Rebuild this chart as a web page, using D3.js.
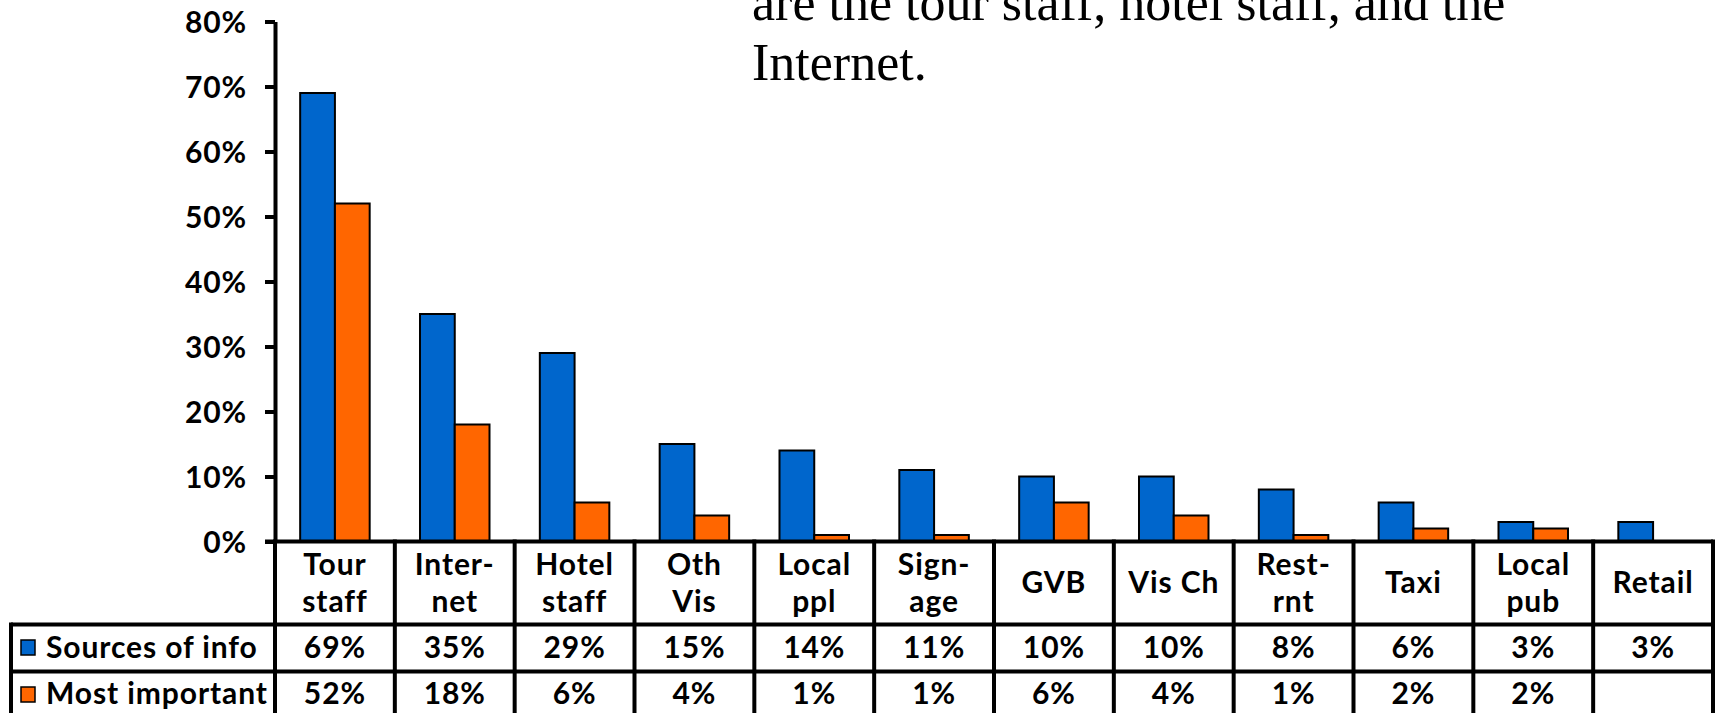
<!DOCTYPE html>
<html>
<head>
<meta charset="utf-8">
<script src="https://cdn.jsdelivr.net/npm/d3@7/dist/d3.min.js"></script>
<style>
  html, body { margin: 0; padding: 0; background: #fff; }
  svg { display: block; }
  .lbl { font-family: Lato, "DejaVu Sans", sans-serif; font-weight: 700; font-size: 30px; letter-spacing: 0.9px; fill: #000; }
  .note { font-family: "Liberation Serif", "Times New Roman", serif; font-size: 52px; fill: #000; }
</style>
</head>
<body>
<svg id="chart" width="1715" height="713"></svg>
<script>
// Information sources used by visitors (share of respondents, %)
const categories = ["Tour\nstaff", "Inter-\nnet", "Hotel\nstaff", "Oth\nVis", "Local\nppl", "Sign-\nage",
                    "GVB", "Vis Ch", "Rest-\nrnt", "Taxi", "Local\npub", "Retail"];
const seriesNames = ["Sources of info", "Most important"];
const sourcesOfInfo = [69, 35, 29, 15, 14, 11, 10, 10, 8, 6, 3, 3];
const mostImportant = [52, 18, 6, 4, 1, 1, 6, 4, 1, 2, 2, null];
const yTicks = [0, 10, 20, 30, 40, 50, 60, 70, 80];
const noteLines = ["are the tour staff, hotel staff, and the", "Internet."];

const seriesColors = ["#0066CC", "#FF6600"];
const seriesValues = [sourcesOfInfo, mostImportant];

const svg = d3.select("#chart");

// Layout
const plotLeft = 275, plotRight = 1713;
const plotTop = 21.5, plotBottom = 541.5;
const rowLines = [541.5, 624.5, 671.5];   // table horizontal rules
const tableLeft = 11;
const tableBottom = 722;

const x = d3.scaleBand().domain(categories).range([plotLeft, plotRight]).padding(0);
const xs = d3.scaleBand().domain(seriesNames)
  .range([x.bandwidth() * 0.21, x.bandwidth() * 0.79]).padding(0);
const y = d3.scaleLinear().domain([0, 80]).range([plotBottom, plotTop]);

// Text block overlapping the top of the chart
svg.append("g").selectAll("text").data(noteLines).join("text")
  .attr("class", "note")
  .attr("x", 752)
  .attr("y", (d, i) => 20 + i * 60)
  .text(d => d);

// Bars
const groups = svg.append("g").selectAll("g").data(categories).join("g")
  .attr("transform", d => `translate(${x(d)},0)`);

groups.selectAll("rect")
  .data((d, i) => seriesNames.map((s, k) => ({ s, k, v: seriesValues[k][i] })).filter(e => e.v != null))
  .join("rect")
  .attr("x", e => xs(e.s))
  .attr("width", xs.bandwidth())
  .attr("y", e => y(e.v))
  .attr("height", e => y(0) - y(e.v))
  .attr("fill", e => seriesColors[e.k])
  .attr("stroke", "#000")
  .attr("stroke-width", 2);

// Y axis
const yAxis = svg.append("g")
  .attr("transform", `translate(${plotLeft},0)`)
  .call(d3.axisLeft(y).tickValues(yTicks).tickFormat(d => d + "%").tickSize(10).tickSizeOuter(0).tickPadding(18));
yAxis.select(".domain").attr("stroke", "#000").attr("stroke-width", 4);
yAxis.selectAll(".tick line").attr("stroke", "#000").attr("stroke-width", 4);
yAxis.selectAll(".tick text").attr("class", "lbl").attr("dy", "0.36em");

// Data table below the axis
const table = svg.append("g");
const colEdges = categories.map(c => x(c)).concat([x.range()[1]]);

// horizontal rules
table.append("line")
  .attr("x1", plotLeft - 10).attr("x2", plotRight)
  .attr("y1", rowLines[0]).attr("y2", rowLines[0])
  .attr("stroke", "#000").attr("stroke-width", 4);
table.selectAll("line.h").data(rowLines.slice(1)).join("line").attr("class", "h")
  .attr("x1", tableLeft).attr("x2", plotRight)
  .attr("y1", d => d).attr("y2", d => d)
  .attr("stroke", "#000").attr("stroke-width", 4);

// vertical rules
table.selectAll("line.v").data(colEdges).join("line").attr("class", "v")
  .attr("x1", d => d).attr("x2", d => d)
  .attr("y1", rowLines[0] - 2).attr("y2", tableBottom)
  .attr("stroke", "#000").attr("stroke-width", 4);
table.append("line")
  .attr("x1", tableLeft).attr("x2", tableLeft)
  .attr("y1", rowLines[1] - 2).attr("y2", tableBottom)
  .attr("stroke", "#000").attr("stroke-width", 4);

// category labels
const catCells = table.selectAll("text.cat").data(categories).join("text")
  .attr("class", "lbl cat")
  .attr("text-anchor", "middle");
catCells.each(function (d) {
  const lines = d.split("\n");
  const cx = x(d) + x.bandwidth() / 2;
  const base = lines.length === 1 ? 593 : 575;
  d3.select(this).selectAll("tspan").data(lines).join("tspan")
    .attr("x", cx)
    .attr("y", (l, i) => base + i * 36.5)
    .text(l => l);
});

// value rows
const rowBase = [658, 704];
seriesNames.forEach((s, k) => {
  table.selectAll(`text.val${k}`).data(categories).join("text")
    .attr("class", `lbl val${k}`)
    .attr("text-anchor", "middle")
    .attr("x", c => x(c) + x.bandwidth() / 2)
    .attr("y", rowBase[k])
    .text((c, i) => seriesValues[k][i] == null ? "" : seriesValues[k][i] + "%");

  // legend keys in the row headers
  table.append("rect")
    .attr("x", 21).attr("y", (rowLines[k + 1] + (rowLines[k + 2] || rowLines[k + 1] + 47)) / 2 - 8)
    .attr("width", 14).attr("height", 15)
    .attr("fill", seriesColors[k]).attr("stroke", "#000").attr("stroke-width", 1.5);
  table.append("text")
    .attr("class", "lbl")
    .attr("x", 46)
    .attr("y", rowBase[k])
    .text(s);
});
</script>
</body>
</html>
